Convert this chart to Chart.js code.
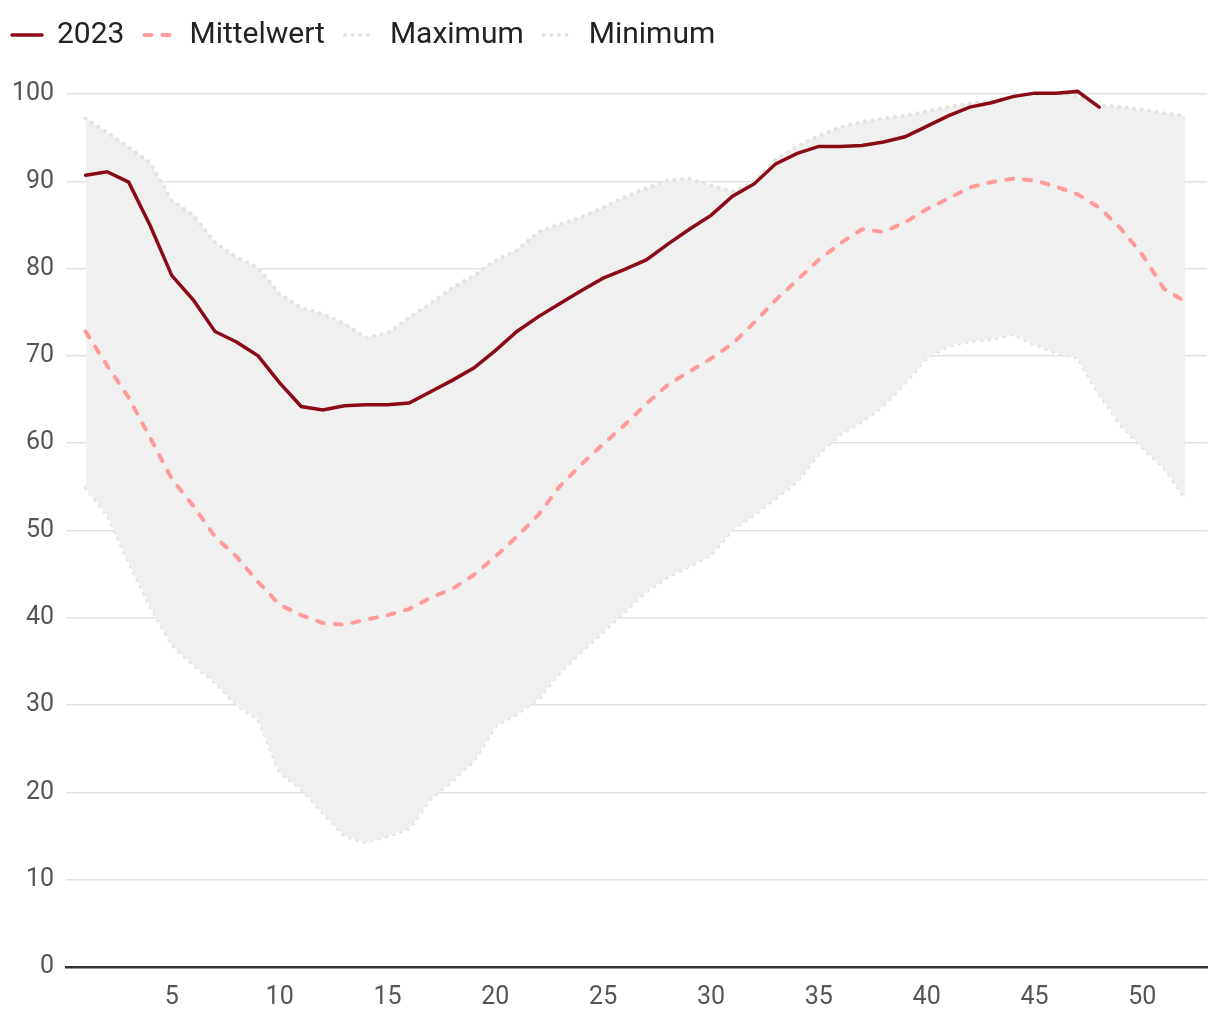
<!DOCTYPE html>
<html>
<head>
<meta charset="utf-8">
<script src="https://cdn.jsdelivr.net/npm/chart.js@4"></script>
<style>
  html, body { margin: 0; padding: 0; background: #fff; }
  #wrap { width: 1220px; height: 1020px; }
</style>
</head>
<body>
<div id="wrap"><canvas id="chart"></canvas></div>
<script>
// Kalenderwochen
const weeks = Array.from({ length: 52 }, (_, i) => i + 1);

// Werte (Prozent), Woche 1..52
const values2023 = [90.7, 91.1, 89.9, 84.9, 79.2, 76.4, 72.8, 71.6, 70.0, 66.9,
  64.2, 63.8, 64.3, 64.4, 64.4, 64.6, 65.9, 67.2, 68.6, 70.6,
  72.8, 74.5, 76.0, 77.5, 78.9, 79.9, 81.0, 82.8, 84.5, 86.1,
  88.3, 89.7, 92.0, 93.2, 94.0, 94.0, 94.1, 94.5, 95.1, 96.3,
  97.5, 98.5, 99.0, 99.7, 100.1, 100.1, 100.3, 98.5];

const mittelwert = [72.8, 68.9, 65.2, 60.6, 55.9, 52.8, 49.3, 47.0, 44.1, 41.5,
  40.3, 39.4, 39.2, 39.8, 40.3, 41.0, 42.3, 43.3, 44.9, 47.0,
  49.3, 51.8, 55.1, 57.6, 59.9, 62.1, 64.5, 66.7, 68.2, 69.7,
  71.4, 73.8, 76.4, 78.7, 81.0, 82.9, 84.5, 84.2, 85.3, 86.8,
  88.0, 89.3, 89.9, 90.3, 90.1, 89.4, 88.5, 87.0, 84.6, 81.6,
  77.7, 76.2];

const maximum = [97.2, 95.6, 93.9, 92.1, 87.8, 86.1, 83.0, 81.3, 80.1, 77.1,
  75.5, 74.8, 73.7, 72.1, 72.6, 74.4, 76.0, 77.8, 79.2, 80.9,
  82.1, 84.2, 85.1, 85.9, 87.0, 88.2, 89.2, 90.1, 90.3, 89.5,
  88.8, 89.9, 92.5, 94.0, 95.2, 96.2, 96.8, 97.2, 97.5, 98.0,
  98.5, 98.9, 99.2, 99.7, 100.0, 100.1, 99.7, 98.7, 98.5, 98.2,
  97.8, 97.5];

const minimum = [54.9, 51.8, 46.4, 41.3, 36.9, 34.6, 32.6, 30.0, 28.4, 22.3,
  20.4, 17.7, 15.0, 14.3, 15.0, 15.8, 19.3, 21.3, 23.6, 27.6,
  29.0, 30.7, 33.8, 36.1, 38.4, 40.7, 43.0, 44.7, 45.9, 47.2,
  50.1, 51.8, 53.7, 55.6, 58.8, 61.0, 62.5, 64.3, 66.9, 69.8,
  71.1, 71.7, 71.9, 72.5, 71.3, 70.4, 69.8, 65.6, 62.1, 59.5,
  57.2, 53.7];

const seriesNames = ['2023', 'Mittelwert', 'Maximum', 'Minimum'];
const xTicks = [5, 10, 15, 20, 25, 30, 35, 40, 45, 50];
const yTicks = [0, 10, 20, 30, 40, 50, 60, 70, 80, 90, 100];

const toPoints = arr => arr.map((v, i) => ({ x: weeks[i], y: v }));

const FONT = "Roboto, 'DejaVu Sans', sans-serif";
const dotColor = '#e4e4dc';

// mehr Abstand zwischen Legende und Diagramm, Legende etwas nach links
const legendGap = {
  id: 'legendGap',
  beforeInit(chart) {
    const legend = chart.legend;
    const fit = legend.fit;
    legend.fit = function () {
      fit.bind(legend)();
      this.height += 34;
    };
    const draw = legend.draw;
    legend.draw = function () {
      const ctx = chart.ctx;
      ctx.save();
      ctx.translate(-8, 0);
      draw.bind(legend)();
      ctx.restore();
    };
  }
};

const data = {
  datasets: [
    {
      label: seriesNames[0],
      data: toPoints(values2023),
      borderColor: '#8b0a18',
      borderWidth: 3.5,
      borderCapStyle: 'round',
      pointRadius: 0,
      tension: 0,
      fill: false,
      clip: 10
    },
    {
      label: seriesNames[1],
      data: toPoints(mittelwert),
      borderColor: '#ff9a9a',
      borderWidth: 4,
      borderDash: [7, 11],
      borderCapStyle: 'round',
      pointRadius: 0,
      tension: 0,
      fill: false
    },
    {
      label: seriesNames[2],
      data: toPoints(maximum),
      borderColor: dotColor,
      backgroundColor: '#f0f0f0',
      borderWidth: 4,
      borderDash: [0.1, 7.5],
      borderCapStyle: 'round',
      pointRadius: 0,
      tension: 0,
      fill: '+1',
      clip: 10
    },
    {
      label: seriesNames[3],
      data: toPoints(minimum),
      borderColor: dotColor,
      borderWidth: 4,
      borderDash: [0.1, 7.5],
      borderCapStyle: 'round',
      pointRadius: 0,
      tension: 0,
      fill: false
    }
  ]
};

const config = {
  type: 'line',
  data: data,
  plugins: [legendGap],
  options: {
    responsive: true,
    maintainAspectRatio: false,
    animation: false,
    layout: { padding: { left: 0, right: 13, top: 0, bottom: -1 } },
    plugins: {
      tooltip: { enabled: false },
      legend: {
        position: 'top',
        align: 'start',
        labels: {
          usePointStyle: true,
          pointStyle: 'line',
          pointStyleWidth: 30,
          boxHeight: 10,
          padding: 20,
          color: '#222',
          font: { family: FONT, size: 30 },
          generateLabels(chart) {
            const items = Chart.defaults.plugins.legend.labels.generateLabels(chart);
            items.forEach(item => {
              const ds = chart.data.datasets[item.datasetIndex];
              item.strokeStyle = ds.borderColor;
              item.lineWidth = ds.borderWidth;
              item.lineDash = ds.borderDash || [];
              item.lineCap = 'round';
            });
            return items;
          }
        }
      }
    },
    scales: {
      x: {
        type: 'linear',
        min: 0.1,
        max: 53,
        grid: { display: false },
        border: { display: true, color: '#333', width: 2.5 },
        afterBuildTicks: axis => { axis.ticks = xTicks.map(v => ({ value: v })); },
        ticks: {
          color: '#555',
          padding: 8,
          maxRotation: 0,
          font: { family: FONT, size: 25 }
        }
      },
      y: {
        min: 0,
        max: 100,
        afterBuildTicks: axis => { axis.ticks = yTicks.map(v => ({ value: v })); },
        grid: { color: '#e2e2e2', lineWidth: 1.5, drawTicks: false },
        border: { display: false },
        ticks: {
          color: '#555',
          padding: 12,
          font: { family: FONT, size: 25 }
        }
      }
    }
  }
};

const myChart = new Chart(document.getElementById('chart'), config);
</script>
</body>
</html>
